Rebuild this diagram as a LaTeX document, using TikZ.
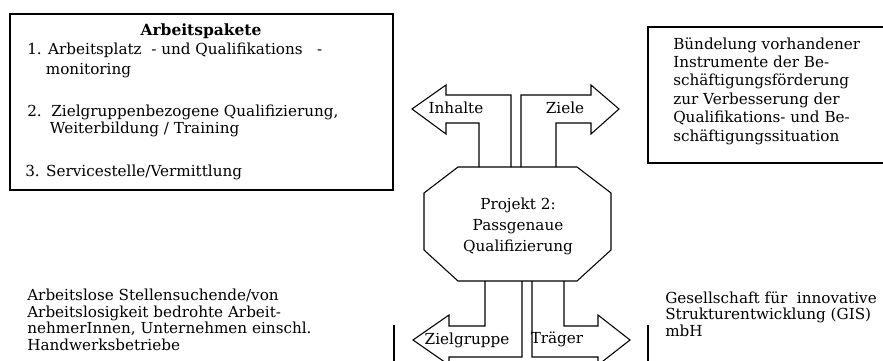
\documentclass[tikz,border=0pt]{standalone}
\usepackage{fontspec}
\setmainfont{DejaVu Serif}

\begin{document}
\begin{tikzpicture}[x=0.75pt,y=-0.75pt,
    txt/.style={inner sep=0pt,align=left,anchor=west,font=\fontsize{11.4}{13.8}\selectfont},
    lbl/.style={inner sep=0pt,font=\fontsize{11.4}{13.8}\selectfont},
    frame/.style={line width=1.1pt},
    blk/.style={line width=0.8pt,line join=miter}]
  \useasboundingbox (0,0) rectangle (883,361);
  \clip (0,0) rectangle (883,361);
  \draw[frame] (10,14) rectangle (393,190);
  \draw[frame] (648,27) rectangle (890,163);
  \draw[frame] (394,325) -- (394,370);
  \draw[frame] (648,325) -- (648,370);
  \node[lbl,font=\fontsize{11.6}{13.8}\selectfont\bfseries] (title) at (201,31) {Arbeitspakete};
  \node[txt,font=\fontsize{11.4}{15}\selectfont] (wp1) at (27,60) {1. Arbeitsplatz\ \ - und Qualifikations\ \ \ -\\\hspace*{14pt}monitoring};
  \node[txt,font=\fontsize{11.4}{12.4}\selectfont] (wp2) at (27,121) {2.\ \ Zielgruppenbezogene Qualifizierung,\\\hspace*{17pt}Weiterbildung / Training};
  \node[txt] (wp3) at (25,172) {3. Servicestelle/Vermittlung};
  \node[txt] (ziele) at (673,91) {Bündelung vorhandener\\Instrumente der Be-\\schäftigungsförderung\\zur Verbesserung der\\Qualifikations- und Be-\\schäftigungssituation};
  \node[txt,font=\fontsize{11.4}{12.4}\selectfont] (zg) at (27,320) {Arbeitslose Stellensuchende/von\\Arbeitslosigkeit bedrohte Arbeit-\\nehmerInnen, Unternehmen einschl.\\Handwerksbetriebe};
  \node[txt,font=\fontsize{11.4}{12.4}\selectfont] (tr) at (665,314) {Gesellschaft für\ \ innovative\\Strukturentwicklung (GIS)\\mbH};
  \draw[blk] (458,167) -- (577,167) -- (611,193) -- (611,250) -- (577,281) -- (458,281) -- (424,250) -- (424,193) -- cycle;
  \node[lbl,align=center,font=\fontsize{11.4}{15.8}\selectfont] (proj) at (518,226) {Projekt 2:\\Passgenaue\\Qualifizierung};
  \draw[blk] (479,167) -- (479,123) -- (446,123) -- (446,134) -- (412,109) -- (446,85) -- (446,95) -- (511,95) -- (511,167);
  \draw[blk] (521,167) -- (521,95) -- (591,95) -- (591,85) -- (619,109) -- (591,134) -- (591,123) -- (556,123) -- (556,167);
  \draw[blk] (485,281) -- (485,326) -- (449,326) -- (449,315) -- (413,340) -- (449,365) -- (449,357) -- (522,357) -- (522,281);
  \draw[blk] (532,281) -- (532,357) -- (598,357) -- (598,365) -- (630,340) -- (598,315) -- (598,326) -- (564,326) -- (564,281);
  \node[lbl] (inh) at (456,108) {Inhalte};
  \node[lbl] (zl) at (565,108) {Ziele};
  \node[lbl] (zgr) at (467,340) {Zielgruppe};
  \node[lbl] (trg) at (557,339) {Träger};
\end{tikzpicture}
\end{document}
